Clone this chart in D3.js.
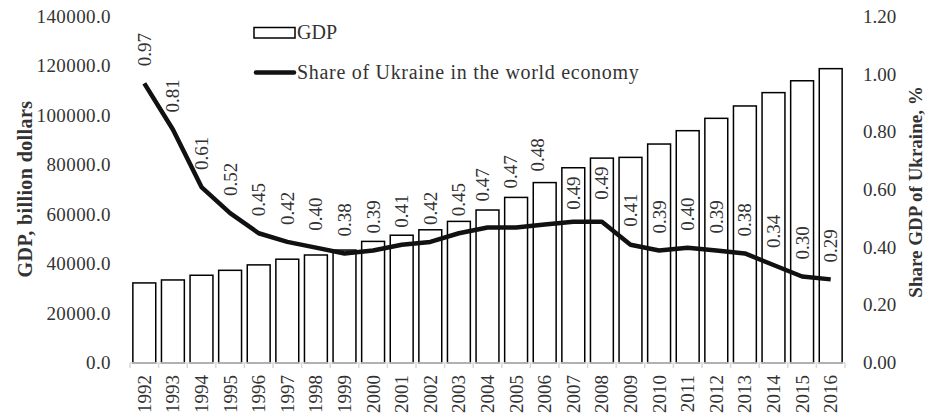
<!DOCTYPE html>
<html>
<head>
<meta charset="utf-8">
<script src="https://cdnjs.cloudflare.com/ajax/libs/d3/7.8.5/d3.min.js"></script>
<style>
  body { margin: 0; background: #fff; }
  text { font-family: "Liberation Serif", "DejaVu Serif", serif; }
</style>
</head>
<body>
<div id="chart"></div>
<script>
    const years = ["1992","1993","1994","1995","1996","1997","1998","1999","2000","2001","2002","2003",
                   "2004","2005","2006","2007","2008","2009","2010","2011","2012","2013","2014","2015","2016"];
    const gdp = [32400, 33600, 35500, 37500, 39700, 42000, 43700, 45700, 49200, 51700, 53900, 57300,
                 61900, 67000, 73000, 79000, 82900, 83200, 88600, 94000, 99000, 104000, 109400, 114200, 119100];
    const share = [0.97, 0.81, 0.61, 0.52, 0.45, 0.42, 0.40, 0.38, 0.39, 0.41, 0.42, 0.45,
                   0.47, 0.47, 0.48, 0.49, 0.49, 0.41, 0.39, 0.40, 0.39, 0.38, 0.34, 0.30, 0.29];
    const leftTicks = [0, 20000, 40000, 60000, 80000, 100000, 120000, 140000];
    const rightTicks = [0, 0.2, 0.4, 0.6, 0.8, 1.0, 1.2];

    let width = 926, height = 419;
    const plot = { left: 130, right: 845, top: 17, bottom: 363 };
    const fontSize = 19;
    const textColor = "#333";
    // a few data labels were moved by hand in the original, [dx, gap above the point]
    const labelNudge = { "2004": [-5, 26], "2005": [-6, 39], "2006": [-7, 53],
                         "2007": [0, 12], "2008": [0, 22], "2009": [0, 18] };

    const svg = d3.select("#chart")
        .append("svg")
        .attr("width", width)
        .attr("height", height);

    const x = d3.scaleBand()
        .domain(years)
        .range([plot.left, plot.right])
        .paddingInner(0.2)
        .paddingOuter(0.1);

    const yLeft = d3.scaleLinear().domain([0, 140000]).range([plot.bottom, plot.top]);
    const yRight = d3.scaleLinear().domain([0, 1.2]).range([plot.bottom, plot.top]);
    const cx = d => x(d) + x.bandwidth() / 2;

    // bars
    svg.append("g")
        .selectAll("rect")
        .data(years)
        .join("rect")
        .attr("x", d => x(d))
        .attr("width", x.bandwidth())
        .attr("y", (d, i) => yLeft(gdp[i]))
        .attr("height", (d, i) => yLeft(0) - yLeft(gdp[i]))
        .attr("fill", "#fff")
        .attr("stroke", "#000")
        .attr("stroke-width", 1.5);

    // x axis line + ticks between categories
    const axisG = svg.append("g");
    axisG.append("line")
        .attr("x1", plot.left).attr("x2", plot.right)
        .attr("y1", plot.bottom).attr("y2", plot.bottom)
        .attr("stroke", "#d9d9d9").attr("stroke-width", 1.5);
    const boundaries = d3.range(years.length + 1).map(i => plot.left + x.step() * i);
    axisG.selectAll("line.tick")
        .data(boundaries)
        .join("line")
        .attr("class", "tick")
        .attr("x1", d => d).attr("x2", d => d)
        .attr("y1", plot.bottom).attr("y2", plot.bottom + 5)
        .attr("stroke", "#d9d9d9").attr("stroke-width", 1.5);

    axisG.selectAll("text")
        .data(years)
        .join("text")
        .attr("transform", d => `translate(${cx(d) + 6.5},${plot.bottom + 12}) rotate(-90)`)
        .attr("text-anchor", "end")
        .attr("font-size", fontSize)
        .attr("fill", textColor)
        .text(d => d);

    // left ticks
    svg.append("g")
        .selectAll("text")
        .data(leftTicks)
        .join("text")
        .attr("x", 111)
        .attr("y", d => yLeft(d) + 6)
        .attr("text-anchor", "end")
        .attr("font-size", fontSize)
        .attr("letter-spacing", 0.4)
        .attr("fill", textColor)
        .text(d => d3.format(".1f")(d));

    // right ticks
    svg.append("g")
        .selectAll("text")
        .data(rightTicks)
        .join("text")
        .attr("x", 863)
        .attr("y", d => yRight(d) + 6)
        .attr("text-anchor", "start")
        .attr("font-size", fontSize)
        .attr("fill", textColor)
        .text(d => d3.format(".2f")(d));

    // share line
    const line = d3.line()
        .x((d, i) => cx(years[i]))
        .y(d => yRight(d));

    svg.append("path")
        .datum(share)
        .attr("d", line)
        .attr("fill", "none")
        .attr("stroke", "#111")
        .attr("stroke-width", 4.5)
        .attr("stroke-linejoin", "round");

    // value labels
    svg.append("g")
        .selectAll("text")
        .data(share)
        .join("text")
        .attr("transform", (d, i) => {
            const [dx, gap] = labelNudge[years[i]] || [0, 17];
            return `translate(${cx(years[i]) + 6.5 + dx},${yRight(d) - gap}) rotate(-90)`;
        })
        .attr("text-anchor", "start")
        .attr("font-size", fontSize)
        .attr("fill", textColor)
        .text(d => d3.format(".2f")(d));

    // axis titles
    svg.append("text")
        .attr("transform", "translate(32,189) rotate(-90)")
        .attr("text-anchor", "middle")
        .attr("font-size", 20)
        .attr("font-weight", "bold")
        .attr("letter-spacing", 0.4)
        .attr("fill", textColor)
        .text("GDP, billion dollars");

    svg.append("text")
        .attr("transform", "translate(922,192) rotate(-90)")
        .attr("text-anchor", "middle")
        .attr("font-size", 19)
        .attr("font-weight", "bold")
        .attr("fill", textColor)
        .text("Share GDP of Ukraine, %");

    // legend
    const legend = svg.append("g");
    legend.append("rect")
        .attr("x", 254).attr("y", 27.5)
        .attr("width", 41).attr("height", 10.5)
        .attr("fill", "#fff").attr("stroke", "#000").attr("stroke-width", 1.5);
    legend.append("text")
        .attr("x", 297).attr("y", 38.5)
        .attr("font-size", 20).attr("fill", textColor)
        .text("GDP");
    legend.append("line")
        .attr("x1", 256).attr("x2", 294)
        .attr("y1", 72.5).attr("y2", 72.5)
        .attr("stroke", "#111").attr("stroke-width", 4.5).attr("stroke-linecap", "round");
    legend.append("text")
        .attr("x", 297).attr("y", 79)
        .attr("font-size", 20).attr("letter-spacing", 0.7).attr("fill", textColor)
        .text("Share of Ukraine in the world economy");
</script>
</body>
</html>
